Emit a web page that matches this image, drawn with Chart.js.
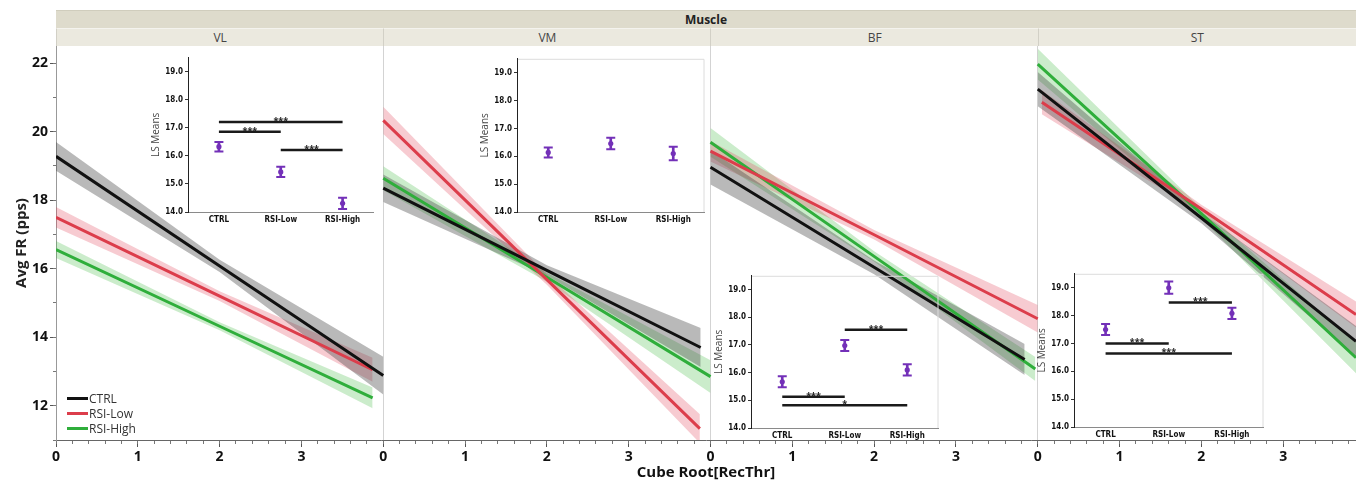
<!DOCTYPE html>
<html><head><meta charset="utf-8">
<script src="https://cdn.jsdelivr.net/npm/chart.js@4.4.1/dist/chart.umd.min.js"></script>
<style>
html,body{margin:0;padding:0;background:#fff;}
#wrap{position:relative;width:1356px;height:481px;overflow:hidden;font-family:"Open Sans",sans-serif;}
canvas{position:absolute;}
.strip{position:absolute;box-sizing:border-box;text-align:center;color:#333;font-size:12px;line-height:18px;white-space:nowrap;}
.leg{position:absolute;font-size:12px;color:#333;line-height:15px;white-space:nowrap;}
.leg span{display:inline-block;width:21px;height:3px;vertical-align:middle;margin-right:1px;position:relative;top:-1px;}
</style></head>
<body><div id="wrap"><canvas id="main" width="1356" height="481" style="left:0;top:0"></canvas></div>
<script>
// ---------------- data ----------------
const muscles = ['VL', 'VM', 'BF', 'ST'];
const groups = ['CTRL', 'RSI-Low', 'RSI-High'];
const xTickLabels = ['0', '1', '2', '3'];
const yTickLabels = [12, 14, 16, 18, 20, 22];
const insetTickLabels = ['14.0', '15.0', '16.0', '17.0', '18.0', '19.0'];

// fitted lines per muscle, per group: [start, middle, end]
const fitX = [
  [[0, 2, 4.00], [0, 2, 3.87], [0, 2, 3.87]],
  [[0, 2, 3.88], [0, 2, 3.87], [0, 2, 4.00]],
  [[0, 2, 3.84], [0, 2, 4.00], [0, 2, 3.97]],
  [[0, 2, 3.89], [0.05, 2, 3.89], [0, 2, 3.89]]
];
const fitY = [
  [[19.28, 16.08, 12.88], [17.50, 15.20, 13.05], [16.56, 14.32, 12.23]],
  [[18.35, 15.95, 13.70], [20.33, 15.68, 11.33], [18.64, 15.75, 12.85]],
  [[18.96, 16.04, 13.35], [19.43, 16.99, 14.54], [19.69, 16.36, 13.07]],
  [[21.24, 17.48, 13.88], [20.86, 17.74, 14.66], [21.97, 17.61, 13.40]]
];
const bandLo = [
  [[18.86, 15.90, 12.33], [17.20, 15.06, 12.70], [16.31, 14.20, 11.93]],
  [[17.95, 15.80, 13.13], [19.93, 15.53, 10.91], [18.29, 15.62, 12.37]],
  [[18.46, 15.84, 12.90], [19.13, 16.85, 14.14], [19.27, 16.21, 12.72]],
  [[20.74, 17.33, 13.43], [20.51, 17.61, 14.28], [21.52, 17.46, 12.95]]
];
const bandHi = [
  [[19.70, 16.26, 13.43], [17.80, 15.34, 13.40], [16.81, 14.44, 12.53]],
  [[18.75, 16.10, 14.27], [20.73, 15.83, 11.75], [18.99, 15.88, 13.33]],
  [[19.46, 16.24, 13.80], [19.73, 17.13, 14.94], [20.11, 16.51, 13.42]],
  [[21.74, 17.63, 14.33], [21.21, 17.87, 15.04], [22.42, 17.76, 13.85]]
];

// inset LS means
const lsMeans = [
  [16.33, 15.43, 14.31],
  [16.14, 16.46, 16.10],
  [15.67, 16.98, 16.10],
  [17.50, 19.00, 18.08]
];
const lsErr = [
  [0.17, 0.18, 0.20],
  [0.18, 0.21, 0.24],
  [0.20, 0.20, 0.20],
  [0.20, 0.22, 0.20]
];
const sigPairs = [
  [[0, 2], [0, 1], [1, 2]],
  [],
  [[1, 2], [0, 1], [0, 2]],
  [[1, 2], [0, 1], [0, 2]]
];
const sigY = [
  [17.21, 16.86, 16.21],
  [],
  [17.55, 15.13, 14.82],
  [18.47, 17.00, 16.64]
];
const sigStars = [
  ['***', '***', '***'],
  [],
  ['***', '***', '*'],
  ['***', '***', '***']
];

// ---------------- style / layout ----------------
const PANEL_SPAN = 4;
const X_MAX = 15.89;
const groupColors = ['#111111', '#dc3d4b', '#2fae3b'];
const bandColors = ['rgba(60,60,60,0.36)', 'rgba(225,70,90,0.28)', 'rgba(70,185,70,0.28)'];
const purple = '#7330b8';
const insetBoxes = [
  {left: 188, top: 57, right: 378, bottom: 212, frame: false},
  {left: 517, top: 58, right: 709, bottom: 212, frame: true},
  {left: 751, top: 275, right: 943, bottom: 428, frame: true},
  {left: 1074, top: 273, right: 1268, bottom: 427, frame: true}
];
const tickFont = {family: '"Open Sans", sans-serif', size: 14, weight: 'bold'};
const titleFont = {family: '"Open Sans", sans-serif', size: 15, weight: 'bold'};
const smallFont = {family: '"Liberation Sans Narrow", "Arial Narrow", "DejaVu Sans Condensed", sans-serif', size: 8, weight: 'bold'};

const wrap = document.getElementById('wrap');

// ---------------- main chart ----------------
const datasets = [];
muscles.forEach((m, mi) => {
  groups.forEach((g, gi) => {
    datasets.push({
      label: m + ' ' + g,
      data: fitX[mi][gi].map((x, k) => ({x: x + mi * PANEL_SPAN, y: fitY[mi][gi][k]})),
      borderColor: groupColors[gi], borderWidth: 3, pointRadius: 0, fill: false,
      order: 0, xAxisID: 'x', yAxisID: 'y'
    });
  });
});
muscles.forEach((m, mi) => {
  groups.forEach((g, gi) => {
    datasets.push({
      label: m + ' ' + g + ' CI hi',
      data: fitX[mi][gi].map((x, k) => ({x: x + mi * PANEL_SPAN, y: bandHi[mi][gi][k]})),
      borderWidth: 0, borderColor: 'rgba(0,0,0,0)', pointRadius: 0,
      backgroundColor: bandColors[gi], fill: '+1', order: 1, xAxisID: 'x', yAxisID: 'y'
    });
    datasets.push({
      label: m + ' ' + g + ' CI lo',
      data: fitX[mi][gi].map((x, k) => ({x: x + mi * PANEL_SPAN, y: bandLo[mi][gi][k]})),
      borderWidth: 0, borderColor: 'rgba(0,0,0,0)', pointRadius: 0,
      fill: false, order: 1, xAxisID: 'x', yAxisID: 'y'
    });
  });
});

const mainChart = new Chart(document.getElementById('main'), {
  type: 'line',
  data: {datasets},
  options: {
    responsive: false, animation: false, devicePixelRatio: 1,
    layout: {padding: {top: 46, right: 0, bottom: 0, left: 0}},
    plugins: {legend: {display: false}, tooltip: {enabled: false}},
    scales: {
      x: {
        type: 'linear', position: 'bottom', weight: 1, min: 0, max: X_MAX,
        ticks: {
          stepSize: 1, includeBounds: false, autoSkip: false, maxRotation: 0, padding: 2,
          color: '#111', font: tickFont,
          callback: v => xTickLabels[Math.round(v) % PANEL_SPAN]
        },
        grid: {
          drawOnChartArea: true, tickLength: 7, tickColor: '#555',
          color: ctx => (ctx.tick && ctx.tick.value > 0 && Math.round(ctx.tick.value) % PANEL_SPAN === 0) ? '#d3d3d3' : 'rgba(0,0,0,0)'
        },
        border: {color: '#666', width: 1},
        title: {display: true, text: 'Cube Root[RecThr]', color: '#111', font: titleFont, padding: {top: 0, bottom: -1}},
        afterFit: s => { s.height = 41; }
      },
      xMinor: {
        type: 'linear', position: 'bottom', weight: 0, min: 0, max: X_MAX,
        ticks: {stepSize: 0.2, includeBounds: false, autoSkip: false, display: false},
        grid: {drawOnChartArea: false, tickLength: 4, tickColor: '#777'},
        border: {display: false},
        afterFit: s => { s.height = 0; }
      },
      y: {
        type: 'linear', position: 'left', weight: 1, min: 11, max: 22.5,
        ticks: {
          stepSize: 2, includeBounds: false, padding: 2, color: '#111', font: tickFont,
          callback: v => yTickLabels.includes(Math.round(v)) ? String(Math.round(v)) : ''
        },
        grid: {drawOnChartArea: false, tickLength: 6, tickColor: '#555'},
        border: {color: '#999', width: 1},
        title: {display: true, text: 'Avg FR (pps)', color: '#222', font: titleFont, padding: {top: 13, bottom: 0}},
        afterFit: s => { s.width = 56; }
      },
      yMinor: {
        type: 'linear', position: 'left', weight: 0, min: 11, max: 22.5,
        ticks: {stepSize: 1, includeBounds: false, display: false},
        grid: {drawOnChartArea: false, tickLength: 3, tickColor: '#777'},
        border: {display: false},
        afterFit: s => { s.width = 0; }
      }
    }
  }
});

// ---------------- strips (facet headers) ----------------
(function buildStrips() {
  const sx = mainChart.scales.x;
  const left = mainChart.chartArea.left, right = mainChart.chartArea.right;
  const top = document.createElement('div');
  top.className = 'strip';
  Object.assign(top.style, {left: left + 'px', top: '10px', width: (right - left) + 'px', height: '18px',
    background: '#dedbcc', fontWeight: 'bold', color: '#222', borderTop: '1px solid #d0cdbd'});
  top.textContent = 'Muscle';
  wrap.appendChild(top);
  muscles.forEach((m, mi) => {
    const a = sx.getPixelForValue(mi * PANEL_SPAN);
    const b = mi < muscles.length - 1 ? sx.getPixelForValue((mi + 1) * PANEL_SPAN) : right;
    const d = document.createElement('div');
    d.className = 'strip';
    Object.assign(d.style, {left: a + 'px', top: '28px', width: (b - a) + 'px', height: '18px',
      background: '#ebe9df', borderLeft: '1px solid #d2d0c6', borderTop: '1px solid #f4f3ee', color: '#444'});
    d.textContent = m;
    wrap.appendChild(d);
  });
})();

// ---------------- legend ----------------
(function buildLegend() {
  const ca = mainChart.chartArea;
  groups.forEach((g, gi) => {
    const d = document.createElement('div');
    d.className = 'leg';
    d.style.left = (ca.left + 11) + 'px';
    d.style.top = (ca.bottom - 49 + gi * 15) + 'px';
    d.innerHTML = '<span style="background:' + groupColors[gi] + '"></span>' + g;
    wrap.appendChild(d);
  });
})();

// ---------------- insets ----------------
const starPlugin = {
  id: 'stars',
  afterDatasetsDraw(chart) {
    const ctx = chart.ctx;
    chart.data.datasets.forEach((ds, i) => {
      if (!ds.starText) return;
      const pts = chart.getDatasetMeta(i).data;
      ctx.save();
      ctx.font = 'bold 9px "Open Sans", sans-serif';
      ctx.fillStyle = '#222';
      ctx.textAlign = 'center';
      ctx.textBaseline = 'alphabetic';
      ctx.fillText(ds.starText, (pts[0].x + pts[1].x) / 2, pts[0].y + 2);
      ctx.restore();
    });
  }
};
const framePlugin = {
  id: 'frame',
  beforeDraw(chart, args, opts) {
    if (!opts.show) return;
    const {left, top, right, bottom} = chart.chartArea;
    const ctx = chart.ctx;
    ctx.save();
    ctx.strokeStyle = '#dcdcdc';
    ctx.lineWidth = 1;
    ctx.beginPath();
    ctx.moveTo(left, top + 0.5); ctx.lineTo(right - 0.5, top + 0.5); ctx.lineTo(right - 0.5, bottom);
    ctx.stroke();
    ctx.restore();
  }
};

muscles.forEach((m, mi) => {
  const b = insetBoxes[mi];
  const yW = 40, xH = 16, padTop = 6, padRight = 2;
  const c = document.createElement('canvas');
  c.width = (b.right - b.left) + yW + padRight;
  c.height = (b.bottom - b.top) + xH + padTop;
  c.style.left = (b.left - yW) + 'px';
  c.style.top = (b.top - padTop) + 'px';
  wrap.appendChild(c);

  const ds = [];
  ds.push({type: 'line', label: 'mean', data: lsMeans[mi], showLine: false, pointStyle: 'circle',
    pointRadius: 2.6, pointBackgroundColor: purple, pointBorderColor: purple, pointBorderWidth: 0, order: 0});
  ds.push({type: 'line', label: 'upper', data: lsMeans[mi].map((v, i) => v + lsErr[mi][i]), showLine: false,
    pointStyle: 'line', pointRadius: 4.5, pointBorderWidth: 2, pointBorderColor: purple, order: 0});
  ds.push({type: 'line', label: 'lower', data: lsMeans[mi].map((v, i) => v - lsErr[mi][i]), showLine: false,
    pointStyle: 'line', pointRadius: 4.5, pointBorderWidth: 2, pointBorderColor: purple, order: 0});
  ds.push({type: 'bar', label: 'err', data: lsMeans[mi].map((v, i) => [v - lsErr[mi][i], v + lsErr[mi][i]]),
    backgroundColor: purple, barThickness: 2, borderWidth: 0, order: 1});
  sigPairs[mi].forEach((p, k) => {
    ds.push({type: 'line', label: 'sig' + k, starText: sigStars[mi][k],
      data: [{x: groups[p[0]], y: sigY[mi][k]}, {x: groups[p[1]], y: sigY[mi][k]}],
      borderColor: '#1a1a1a', borderWidth: 2.5, pointRadius: 0, fill: false, order: 0});
  });

  new Chart(c, {
    type: 'bar',
    data: {labels: groups, datasets: ds},
    plugins: [starPlugin, framePlugin],
    options: {
      responsive: false, animation: false, devicePixelRatio: 1,
      layout: {padding: {top: padTop, right: padRight, bottom: 0, left: 0}},
      plugins: {legend: {display: false}, tooltip: {enabled: false}, frame: {show: b.frame}},
      scales: {
        x: {
          type: 'category', offset: true,
          grid: {display: false, drawTicks: false, tickLength: 0},
          border: {color: '#8a8a8a', width: 1},
          ticks: {font: smallFont, color: '#111', padding: 3, maxRotation: 0, autoSkip: false},
          afterFit: s => { s.height = xH; }
        },
        y: {
          type: 'linear', min: 14, max: 19.5,
          ticks: {stepSize: 1, includeBounds: false, font: smallFont, color: '#111', padding: 2,
            callback: v => insetTickLabels[Math.round(v) - 14]},
          grid: {drawOnChartArea: false, tickLength: 3, tickColor: '#333'},
          border: {color: '#222', width: 1},
          title: {display: true, text: 'LS Means', color: '#444',
            font: {family: '"Open Sans", sans-serif', size: 10}, padding: {top: 2, bottom: 0}},
          afterFit: s => { s.width = yW; }
        }
      }
    }
  });
});
</script>
</body></html>
